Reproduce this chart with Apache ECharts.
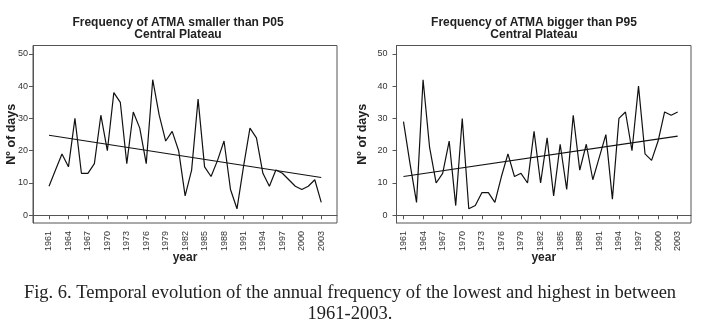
<!DOCTYPE html>
<html>
<head>
<meta charset="utf-8">
<script src="https://cdn.jsdelivr.net/npm/echarts@6/dist/echarts.min.js"></script>
<style>
  html, body { margin: 0; padding: 0; background: #fff; }
  #main { width: 702px; height: 325px; }
</style>
</head>
<body>
<div id="main"></div>
<script>
// years on the x axis
var years = [1961, 1962, 1963, 1964, 1965, 1966, 1967, 1968, 1969, 1970,
             1971, 1972, 1973, 1974, 1975, 1976, 1977, 1978, 1979, 1980,
             1981, 1982, 1983, 1984, 1985, 1986, 1987, 1988, 1989, 1990,
             1991, 1992, 1993, 1994, 1995, 1996, 1997, 1998, 1999, 2000,
             2001, 2002, 2003];
var yearTicks = [1961, 1964, 1967, 1970, 1973, 1976, 1979, 1982, 1985,
                 1988, 1991, 1994, 1997, 2000, 2003];
var dayTicks = [0, 10, 20, 30, 40, 50];

// days below P05
var lowDays = [9, 14, 19, 15, 30, 13, 13, 16, 31, 20,
               38, 35, 16, 32, 27, 16, 42, 31, 23, 26,
               20, 6, 14, 36, 15, 12, 17, 23, 8, 2,
               15, 27, 24, 13, 9, 14, 13, 11, 9, 8,
               9, 11, 4];
// days above P95
var highDays = [29, 16, 4, 42, 21, 10, 13, 23, 3, 30,
                2, 3, 7, 7, 4, 12, 19, 12, 13, 10,
                26, 10, 24, 6, 22, 8, 31, 14, 22, 11,
                18, 25, 5, 30, 32, 20, 40, 19, 17, 23,
                32, 31, 32];

// linear trend end points
var trendYears = [1961, 2003];
var lowTrend = [24.8, 11.7];
var highTrend = [12.0, 24.5];

var titleLow = 'Frequency of ATMA smaller than P05\nCentral Plateau';
var titleHigh = 'Frequency of ATMA bigger than P95\nCentral Plateau';
var caption = 'Fig. 6. Temporal evolution of the annual frequency of the lowest and highest in between\n1961-2003.';

function pairs(xs, ys) {
    var out = [];
    for (var i = 0; i < xs.length; i++) {
        out.push([xs[i], ys[i]]);
    }
    return out;
}

var sans = '"Liberation Sans", Arial, sans-serif';
var axisColor = '#555';

function xAxisFor(idx, min, max) {
    return {
        type: 'value', gridIndex: idx, min: min, max: max,
        name: 'year', nameLocation: 'middle', nameGap: 29, nameMoveOverlap: false,
        nameTextStyle: { fontFamily: sans, fontSize: 12, fontWeight: 'bold', color: '#222' },
        axisLine: { show: true, lineStyle: { color: axisColor, width: 1 } },
        axisTick: { show: true, length: 4, customValues: yearTicks, lineStyle: { color: axisColor } },
        axisLabel: { customValues: yearTicks, rotate: 90, margin: 8,
                     formatter: function (v) { return String(v); },
                     fontFamily: sans, fontSize: 9, color: '#333' },
        splitLine: { show: false }
    };
}

function yAxisFor(idx, gap, margin) {
    return {
        type: 'value', gridIndex: idx, min: -2.4, max: 52.6,
        name: 'Nº of days', nameLocation: 'middle', nameGap: gap, nameMoveOverlap: false,
        nameTextStyle: { fontFamily: sans, fontSize: 12.5, fontWeight: 'bold', color: '#222' },
        axisLine: { show: true, lineStyle: { color: axisColor, width: 1 } },
        axisTick: { show: true, length: 4, customValues: dayTicks, lineStyle: { color: axisColor } },
        axisLabel: { customValues: dayTicks, margin: margin,
                     fontFamily: sans, fontSize: 9, color: '#333' },
        splitLine: { show: false }
    };
}

var chart = echarts.init(document.getElementById('main'), null, { renderer: 'canvas' });

var option = {
    animation: false,
    backgroundColor: '#fff',
    grid: [
        { left: 33, top: 45.5, width: 304, height: 177.5, show: true,
          borderColor: axisColor, borderWidth: 1, containLabel: false },
        { left: 396.5, top: 45.5, width: 294.5, height: 177.5, show: true,
          borderColor: axisColor, borderWidth: 1, containLabel: false }
    ],
    xAxis: [
        xAxisFor(0, 1958.53, 2005.43),
        xAxisFor(1, 1959.93, 2005.04)
    ],
    yAxis: [
        yAxisFor(0, 15, 5),
        yAxisFor(1, 27, 9)
    ],
    series: [
        { type: 'line', xAxisIndex: 0, yAxisIndex: 0, data: pairs(years, lowDays),
          symbol: 'none', lineStyle: { color: '#111', width: 1.2 } },
        { type: 'line', xAxisIndex: 0, yAxisIndex: 0, data: pairs(trendYears, lowTrend),
          symbol: 'none', lineStyle: { color: '#111', width: 1.2 } },
        { type: 'line', xAxisIndex: 1, yAxisIndex: 1, data: pairs(years, highDays),
          symbol: 'none', lineStyle: { color: '#111', width: 1.2 } },
        { type: 'line', xAxisIndex: 1, yAxisIndex: 1, data: pairs(trendYears, highTrend),
          symbol: 'none', lineStyle: { color: '#111', width: 1.2 } }
    ],
    graphic: [
        { type: 'text', x: 178, y: 28.5,
          style: { text: titleLow, fontFamily: sans, fontSize: 12, fontWeight: 'bold',
                   fill: '#222', align: 'center', verticalAlign: 'middle', lineHeight: 12.5 } },
        { type: 'text', x: 534, y: 28.5,
          style: { text: titleHigh, fontFamily: sans, fontSize: 12, fontWeight: 'bold',
                   fill: '#222', align: 'center', verticalAlign: 'middle', lineHeight: 12.5 } },
        { type: 'text', x: 350, y: 303.5,
          style: { text: caption, fontFamily: '"Liberation Serif", "Times New Roman", serif',
                   fontSize: 18.5, fill: '#222', align: 'center', verticalAlign: 'middle',
                   lineHeight: 21.5 } }
    ]
};

chart.setOption(option);
</script>
</body>
</html>
